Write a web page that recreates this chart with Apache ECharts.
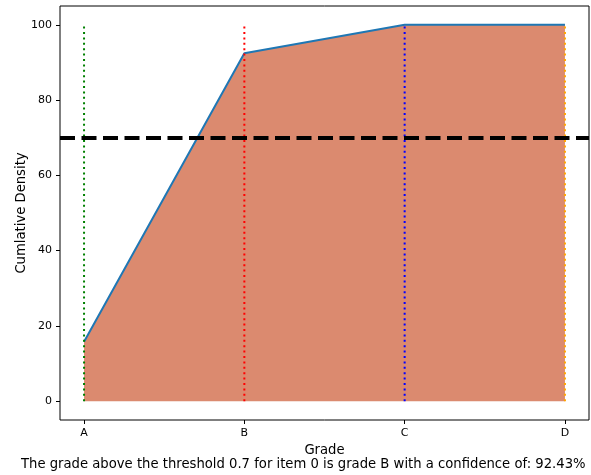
<!DOCTYPE html>
<html>
<head>
<meta charset="utf-8">
<script src="https://cdn.jsdelivr.net/npm/echarts@6/dist/echarts.min.js"></script>
<style>html,body{margin:0;padding:0;background:#fff;}#c{width:591px;height:475px;}</style>
</head>
<body>
<div id="c"></div>
<script>
const grades = ['A', 'B', 'C', 'D'];
const cumulative = [15.8, 92.43, 100, 100];
const vlineColors = ['#008000', '#ff0000', '#0000ff', '#ffa500'];
const vlineTop = 100;
const threshold = 0.7;
const yTicks = [0, 20, 40, 60, 80, 100];
const caption = 'The grade above the threshold 0.7 for item 0 is grade B with a confidence of: 92.43%';

const font = 'DejaVu Sans';
const idx = grades.map((g, i) => i);

const series = [];
series.push({
  type: 'line',
  data: idx.map(i => [i, cumulative[i]]),
  symbol: 'none',
  lineStyle: { color: '#1f77b4', width: 2 },
  areaStyle: { color: '#db8a6f', opacity: 1, origin: 0 },
  z: 2
});
idx.forEach(i => {
  series.push({
    type: 'line',
    data: [[i, 0], [i, vlineTop]],
    symbol: 'none',
    lineStyle: { color: vlineColors[i], width: 2, type: [2, 3.4] },
    z: 3
  });
});
series.push({
  type: 'line',
  data: [],
  markLine: {
    silent: true,
    symbol: 'none',
    label: { show: false },
    lineStyle: { color: '#000', width: 4, type: [15, 6.5] },
    data: [{ yAxis: threshold * 100 }]
  },
  z: 5
});

const chart = echarts.init(document.getElementById('c'), null, { renderer: 'canvas' });
chart.setOption({
  animation: false,
  grid: { left: 60, right: 2, top: 6, bottom: 55, show: true, borderColor: '#000', borderWidth: 1, backgroundColor: 'transparent' },
  xAxis: {
    type: 'value', min: -0.15, max: 3.15,
    name: 'Grade', nameLocation: 'middle', nameGap: 24,
    nameTextStyle: { fontFamily: font, fontSize: 13.2, color: '#000' },
    axisLine: { show: false, onZero: false },
    splitLine: { show: false },
    axisTick: { show: true, inside: false, length: 4, lineStyle: { color: '#000' }, customValues: idx },
    axisLabel: { customValues: idx, formatter: v => grades[Math.round(v)], fontFamily: font, fontSize: 11, color: '#000', margin: 8 }
  },
  yAxis: {
    type: 'value', min: -5, max: 105,
    name: 'Cumlative Density', nameLocation: 'middle', nameGap: 32, nameMoveOverlap: false,
    nameTextStyle: { fontFamily: font, fontSize: 13.2, color: '#000' },
    axisLine: { show: false, onZero: false },
    splitLine: { show: false },
    axisTick: { show: true, inside: false, length: 4, lineStyle: { color: '#000' }, customValues: yTicks },
    axisLabel: { customValues: yTicks, fontFamily: font, fontSize: 11, color: '#000', margin: 8 }
  },
  graphic: [{
    type: 'text', left: 21, top: 458,
    style: { text: caption, fontFamily: font, fontSize: 13.2, fill: '#000' }
  }],
  series: series
});
</script>
</body>
</html>
